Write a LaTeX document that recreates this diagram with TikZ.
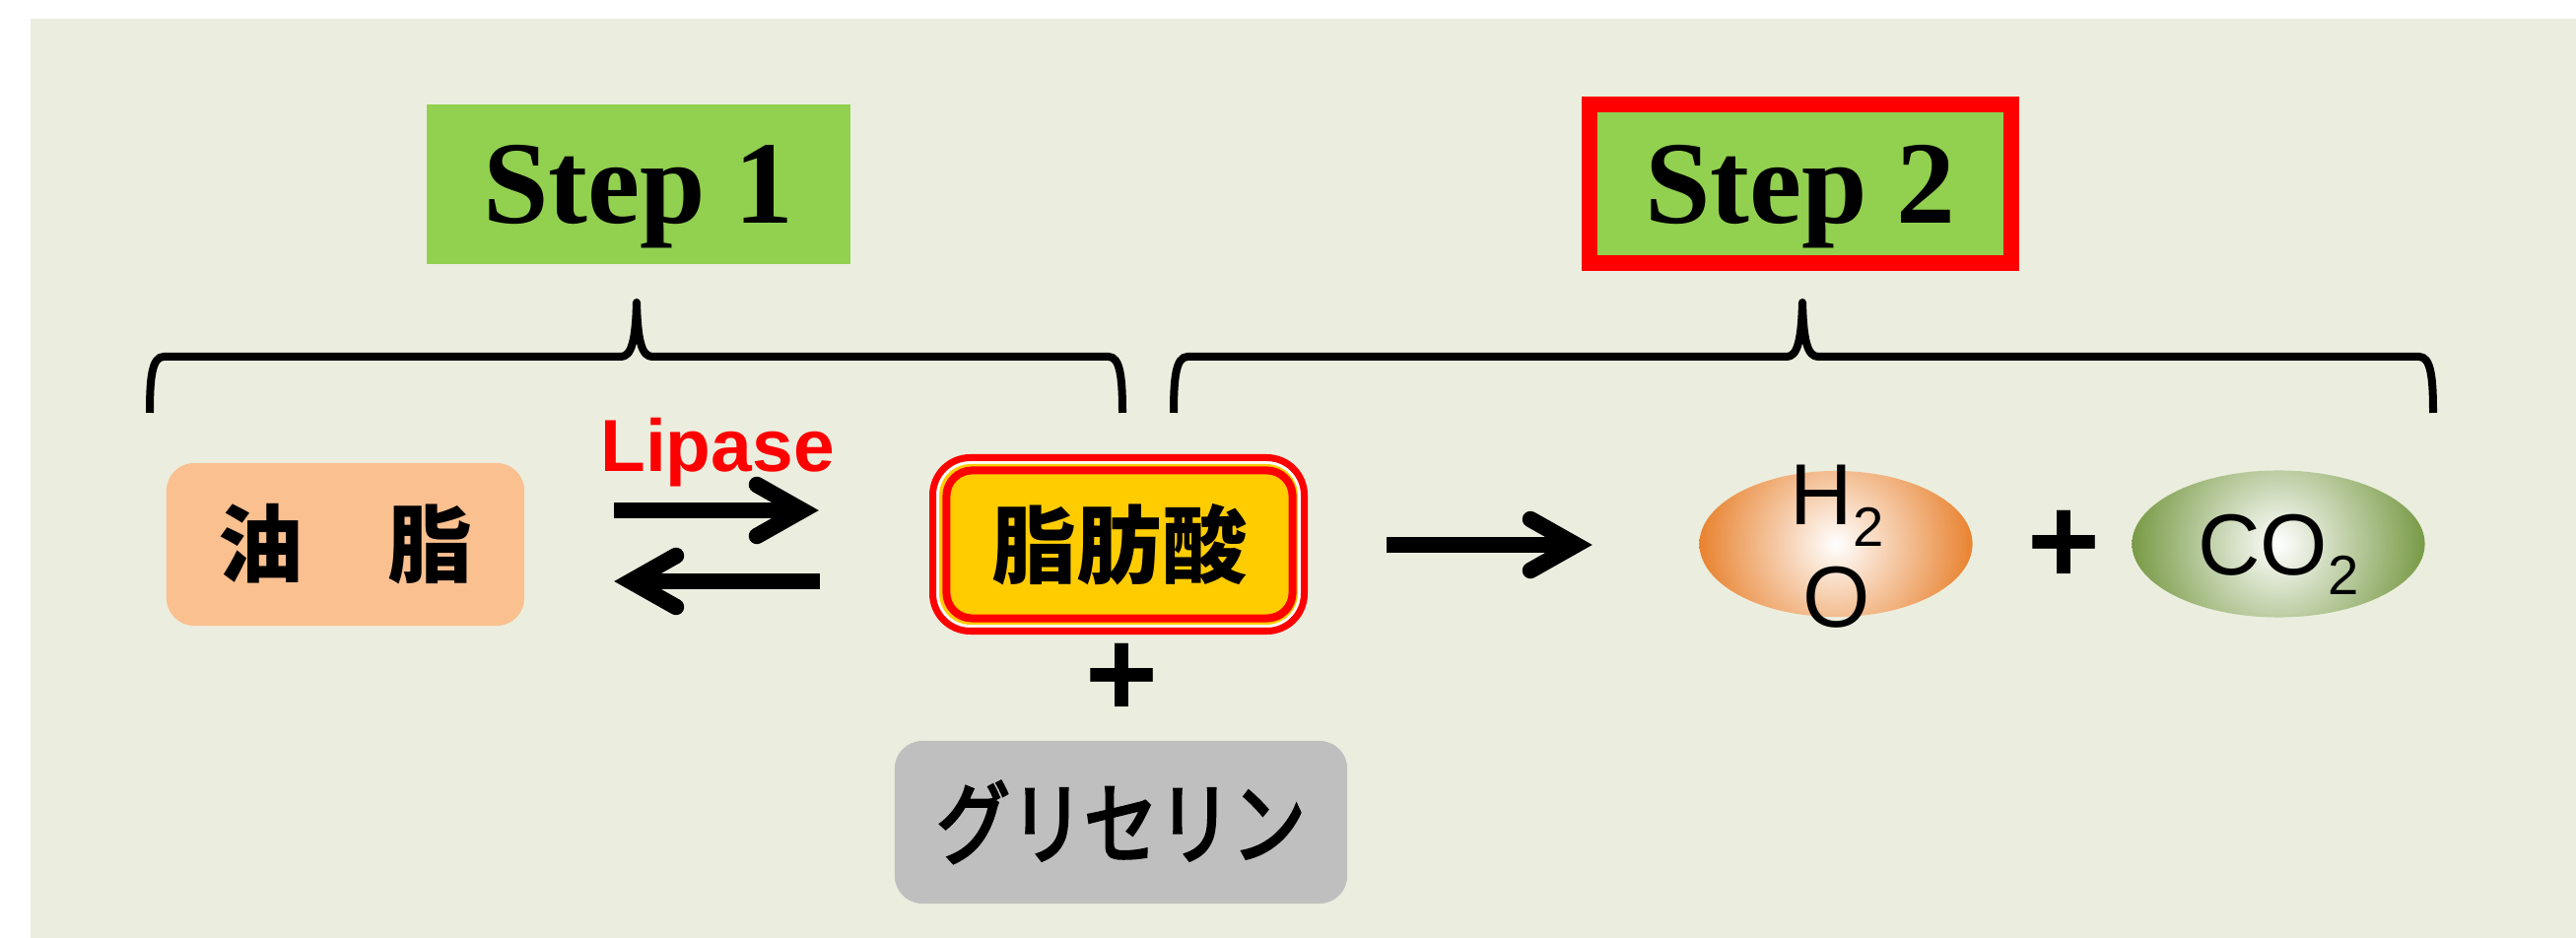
\documentclass[tikz,border=0pt]{standalone}
\usepackage{fontspec}
\setmainfont{Liberation Serif}
\newfontfamily\jpfont{Noto Sans CJK JP}
\newfontfamily\jpkana{Noto Sans CJK JP}[FakeBold=3, FakeStretch=0.82]
\newfontfamily\arialfont{Liberation Sans}
\usetikzlibrary{shapes.geometric}
\definecolor{bgcol}{HTML}{EBEEDE}
\definecolor{stepgreen}{HTML}{92D050}
\definecolor{oilorange}{HTML}{FAC090}
\definecolor{acidyellow}{HTML}{FFCC00}
\definecolor{glygray}{HTML}{BFBFBF}
\definecolor{waterorange}{HTML}{E8822F}
\definecolor{co2green}{HTML}{789A45}
\begin{document}
\begin{tikzpicture}[x=0.01cm, y=-0.01cm,
  stepbox/.style={fill=stepgreen, minimum width=4.29cm, minimum height=1.62cm, inner sep=0pt, text depth=0pt, font=\fontsize{34}{40}\selectfont\bfseries},
  stepboxred/.style={stepbox, draw=red, line width=0.16cm, minimum width=4.28cm, minimum height=1.61cm},
  brace/.style={line width=0.08cm, line cap=butt, line join=round},
  shaft/.style={line width=0.165cm, line cap=butt},
  barb/.style={line width=0.165cm, line cap=round, line join=miter},
  oilbox/.style={fill=oilorange, rounded corners=0.28cm, minimum width=3.63cm, minimum height=1.65cm, inner sep=0pt, font=\jpfont\bfseries\fontsize{24.5}{29}\selectfont},
  acidbox/.style={draw=red, line width=0.08cm, fill=acidyellow, rounded corners=0.26cm, minimum width=3.51cm, minimum height=1.50cm, inner sep=0pt, font=\jpfont\bfseries\fontsize{24.5}{29}\selectfont},
  glybox/.style={fill=glygray, rounded corners=0.28cm, minimum width=4.59cm, minimum height=1.65cm, inner sep=0pt, font=\jpkana\fontsize{26}{30}\selectfont},
  molecule/.style={ellipse, inner sep=0pt},
  chemtext/.style={inner sep=0pt, font=\arialfont\fontsize{25}{29.6}\selectfont},
  plustext/.style={inner sep=0pt, font=\arialfont\bfseries\fontsize{36}{40}\selectfont},
  enzyme/.style={inner sep=0pt, anchor=base, text=red, font=\arialfont\bfseries\fontsize{21.3}{25}\selectfont}
]
\useasboundingbox (0,0) rectangle (2614,952);
\fill[white] (0,0) rectangle (2614,952);
\fill[bgcol] (31,19) rectangle (2614,952);

% step labels
\node[stepbox] (step1) at (648,187) {Step 1};
\node[stepboxred] (step2) at (1827,186.5) {Step 2};

% braces
\draw[brace] (152,419) .. controls (152,385) and (154,362) .. (166,362) -- (630,362)
  .. controls (641,362) and (645,345) .. (646,307)
  .. controls (647,345) and (651,362) .. (662,362) -- (1125,362)
  .. controls (1137,362) and (1139,385) .. (1139,419);
\draw[brace] (1191,419) .. controls (1191,385) and (1193,362) .. (1205,362) -- (1813,362)
  .. controls (1824,362) and (1828,345) .. (1829,307)
  .. controls (1830,345) and (1834,362) .. (1845,362) -- (2455,362)
  .. controls (2467,362) and (2469,385) .. (2469,419);

% oil
\node[oilbox] (oil) at (350.5,552.5) {油　脂};

% fatty acid (triple frame)
\draw[red, line width=0.07cm, fill=white, rounded corners=0.38cm] (946.5,464.5) rectangle (1323.5,640.5);
\fill[acidyellow, rounded corners=0.32cm] (953,471) rectangle (1317,634);
\node[acidbox] (acid) at (1136,552.5) {脂肪酸};

% plus and glycerin
\node[plustext] (plus1) at (1138,690) {+};
\node[glybox] (gly) at (1137.5,834.5) {グリセリン};

% equilibrium arrows
\node[enzyme] (lipase) at (728,479) {Lipase};
\coordinate (f1s) at (623,518);
\coordinate (f1e) at (814,518);
\draw[shaft] (f1s) -- (f1e);
\draw[barb] ([shift={(-46,-26)}]f1e) -- (f1e) -- ([shift={(-46,26)}]f1e);
\coordinate (b1s) at (832,590);
\coordinate (b1e) at (640,590);
\draw[shaft] (b1s) -- (b1e);
\draw[barb] ([shift={(46,-26)}]b1e) -- (b1e) -- ([shift={(46,26)}]b1e);

% step 2 arrow
\coordinate (r1s) at (1407,553);
\coordinate (r1e) at (1599,553);
\draw[shaft] (r1s) -- (r1e);
\draw[barb] ([shift={(-46,-26)}]r1e) -- (r1e) -- ([shift={(-46,26)}]r1e);

% molecules
\node[molecule, minimum width=2.77cm, minimum height=1.48cm,
  path picture={\shade[inner color=white, outer color=waterorange] (path picture bounding box.center) circle (1.39cm);}] (h2o) at (1863,552) {};
\node[chemtext, align=center] (h2otext) at (1864,555) {H{\fontsize{16}{16}\selectfont\raisebox{-0.22cm}{2}}\\O};
\node[plustext] (plus2) at (2094,555) {+};
\node[molecule, minimum width=2.97cm, minimum height=1.49cm,
  path picture={\shade[inner color=white, outer color=co2green] (path picture bounding box.center) circle (1.49cm);}] (co2) at (2312,552) {};
\node[chemtext] (co2text) at (2312,563) {CO{\fontsize{16}{16}\selectfont\raisebox{-0.2cm}{2}}};
\end{tikzpicture}
\end{document}
